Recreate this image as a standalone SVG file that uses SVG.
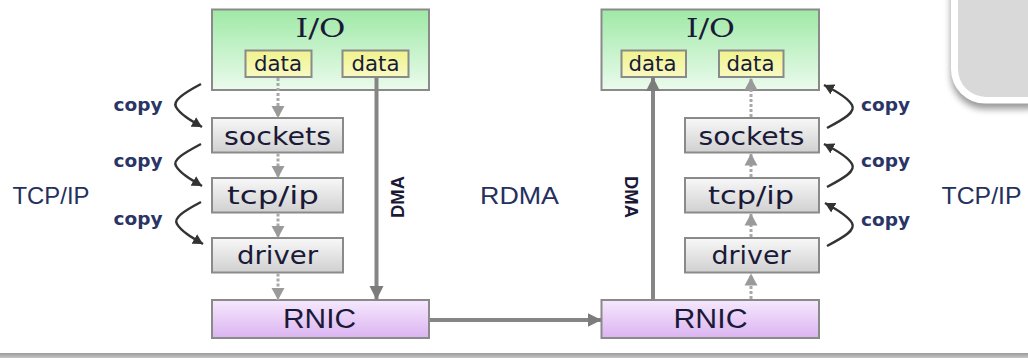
<svg xmlns="http://www.w3.org/2000/svg" width="1028" height="358" viewBox="0 0 1028 358">
  <defs>
    <linearGradient id="gIO" x1="0" y1="0" x2="0" y2="1">
      <stop offset="0" stop-color="#9fe9a6"/>
      <stop offset="1" stop-color="#ebfbed"/>
    </linearGradient>
    <linearGradient id="gData" x1="0" y1="0" x2="0" y2="1">
      <stop offset="0" stop-color="#eff38c"/>
      <stop offset="1" stop-color="#f8fac2"/>
    </linearGradient>
    <linearGradient id="gLayer" x1="0" y1="0" x2="0" y2="1">
      <stop offset="0" stop-color="#f8f8f8"/>
      <stop offset="1" stop-color="#d0d0d0"/>
    </linearGradient>
    <linearGradient id="gNic" x1="0" y1="0" x2="0" y2="1">
      <stop offset="0" stop-color="#f6e8fd"/>
      <stop offset="1" stop-color="#dbb4f1"/>
    </linearGradient>
    <linearGradient id="gBar" x1="0" y1="0" x2="0" y2="1">
      <stop offset="0" stop-color="#9a9a9a"/>
      <stop offset="1" stop-color="#c6c6c6"/>
    </linearGradient>
    <filter id="soft" x="-50%" y="-50%" width="200%" height="200%">
      <feGaussianBlur stdDeviation="3.5"/>
    </filter>
    <marker id="headGray" markerUnits="userSpaceOnUse" markerWidth="14" markerHeight="14" refX="12" refY="7" orient="auto">
      <path d="M0,0.5 L12,7 L0,13.5 Z" fill="#9a9a9a"/>
    </marker>
    <marker id="headDark" markerUnits="userSpaceOnUse" markerWidth="16" markerHeight="16" refX="14" refY="8" orient="auto">
      <path d="M0,1 L14,8 L0,15 Z" fill="#7c7c7c"/>
    </marker>
    <marker id="headCopy" markerUnits="userSpaceOnUse" markerWidth="12" markerHeight="12" refX="10" refY="6" orient="auto">
      <path d="M0,0.5 L10,6 L0,11.5 Z" fill="#333"/>
    </marker>
  </defs>
  <style>
    .box { stroke: #8a8a8a; stroke-width: 2; }
    .io { fill: url(#gIO); }
    .data { fill: url(#gData); }
    .layer { fill: url(#gLayer); }
    .nic { fill: url(#gNic); }
    .t { fill: #1a1a38; font-family: "DejaVu Sans", Verdana, sans-serif; text-anchor: middle; }
    .serif { font-family: "DejaVu Serif", "Liberation Serif", serif; }
    .arial { font-family: "Liberation Sans", Arial, sans-serif; }
    .lbl { fill: #25305e; font-family: "Liberation Sans", Arial, sans-serif; font-size: 24.5px; text-anchor: middle; }
    .copy { fill: #2a3566; font-family: "DejaVu Sans", Verdana, sans-serif; font-weight: bold; font-size: 17px; text-anchor: middle; }
    .dot { stroke: #a8a8a8; stroke-width: 3; stroke-dasharray: 3 2; fill: none; marker-end: url(#headGray); }
    .dma { stroke: #858585; stroke-width: 4; fill: none; marker-end: url(#headDark); }
    .cp { stroke: #333; stroke-width: 2.5; fill: none; marker-end: url(#headCopy); }
  </style>

  <rect width="1028" height="358" fill="#ffffff"/>

  <!-- corner panel with white rim and drop shadow -->
  <g id="corner-panel">
    <rect x="951" y="-40" width="110" height="144" rx="34" fill="#000" opacity="0.4" filter="url(#soft)" transform="translate(0,5)"/>
    <rect x="951" y="-40" width="110" height="143.5" rx="34" fill="#ffffff"/>
    <rect x="958" y="-40" width="100" height="137" rx="28" fill="#d9d9d9"/>
  </g>

  <!-- bottom shadow band -->
  <rect x="0" y="353" width="1028" height="5" fill="url(#gBar)"/>

  <!-- side labels -->
  <g id="labels">
    <text class="lbl" x="51" y="204" textLength="77" lengthAdjust="spacingAndGlyphs">TCP/IP</text>
    <text class="lbl" x="519.5" y="204" textLength="79" lengthAdjust="spacingAndGlyphs">RDMA</text>
    <text class="lbl" x="981.5" y="204" textLength="80" lengthAdjust="spacingAndGlyphs">TCP/IP</text>
  </g>

  <!-- left host -->
  <g id="io-left">
    <rect class="box io" x="212" y="9.5" width="217" height="80.5"/>
    <text class="t serif" x="320.5" y="36.5" font-size="26" textLength="50" lengthAdjust="spacingAndGlyphs">I/O</text>
  </g>
  <g id="data-left-a">
    <rect class="box data" x="245.5" y="50.5" width="66" height="26.5"/>
    <text class="t" x="278" y="70.5" font-size="21.5" textLength="48" lengthAdjust="spacingAndGlyphs">data</text>
  </g>
  <g id="data-left-b">
    <rect class="box data" x="342.5" y="50.5" width="66" height="26.5"/>
    <text class="t" x="375.5" y="70.5" font-size="21.5" textLength="48" lengthAdjust="spacingAndGlyphs">data</text>
  </g>
  <g id="sockets-left">
    <rect class="box layer" x="212" y="118" width="131" height="34.5"/>
    <text class="t" x="277.5" y="144.5" font-size="25" textLength="107" lengthAdjust="spacingAndGlyphs">sockets</text>
  </g>
  <g id="tcpip-left">
    <rect class="box layer" x="212" y="178" width="131" height="34.5"/>
    <text class="t" x="273" y="203.5" font-size="25" textLength="92" lengthAdjust="spacingAndGlyphs">tcp/ip</text>
  </g>
  <g id="driver-left">
    <rect class="box layer" x="212" y="238" width="131" height="34.5"/>
    <text class="t" x="277.5" y="264" font-size="25" textLength="81" lengthAdjust="spacingAndGlyphs">driver</text>
  </g>
  <g id="rnic-left">
    <rect class="box nic" x="212" y="300" width="217" height="38"/>
    <text class="t arial" x="319.5" y="327.5" font-size="27" textLength="73" lengthAdjust="spacingAndGlyphs">RNIC</text>
  </g>

  <!-- right host -->
  <g id="io-right">
    <rect class="box io" x="601.5" y="9.5" width="217.5" height="80.5"/>
    <text class="t serif" x="710.5" y="36.5" font-size="26" textLength="49" lengthAdjust="spacingAndGlyphs">I/O</text>
  </g>
  <g id="data-right-a">
    <rect class="box data" x="621.5" y="50.5" width="64.5" height="26.5"/>
    <text class="t" x="652.5" y="70.5" font-size="21.5" textLength="48" lengthAdjust="spacingAndGlyphs">data</text>
  </g>
  <g id="data-right-b">
    <rect class="box data" x="719" y="50.5" width="64.5" height="26.5"/>
    <text class="t" x="750.5" y="70.5" font-size="21.5" textLength="48" lengthAdjust="spacingAndGlyphs">data</text>
  </g>
  <g id="sockets-right">
    <rect class="box layer" x="685" y="118" width="134" height="34.5"/>
    <text class="t" x="751.5" y="144.5" font-size="25" textLength="106" lengthAdjust="spacingAndGlyphs">sockets</text>
  </g>
  <g id="tcpip-right">
    <rect class="box layer" x="685" y="178" width="134" height="34.5"/>
    <text class="t" x="751" y="203.5" font-size="25" textLength="86" lengthAdjust="spacingAndGlyphs">tcp/ip</text>
  </g>
  <g id="driver-right">
    <rect class="box layer" x="685" y="238" width="134" height="34.5"/>
    <text class="t" x="751" y="264" font-size="25" textLength="79" lengthAdjust="spacingAndGlyphs">driver</text>
  </g>
  <g id="rnic-right">
    <rect class="box nic" x="601.5" y="300" width="217.5" height="38"/>
    <text class="t arial" x="710.5" y="327.5" font-size="27" textLength="74" lengthAdjust="spacingAndGlyphs">RNIC</text>
  </g>

  <!-- connectors -->
  <g id="connectors">
    <!-- stack copies, left side (down) -->
    <line class="dot" x1="278" y1="78" x2="278" y2="118"/>
    <line class="dot" x1="278" y1="153.5" x2="278" y2="178"/>
    <line class="dot" x1="278" y1="213.5" x2="278" y2="238"/>
    <line class="dot" x1="278" y1="273.5" x2="278" y2="300"/>
    <!-- stack copies, right side (up) -->
    <line class="dot" x1="751" y1="299" x2="751" y2="273.5"/>
    <line class="dot" x1="751" y1="237" x2="751" y2="213.5"/>
    <line class="dot" x1="751" y1="177" x2="751" y2="153.5"/>
    <line class="dot" x1="751" y1="117" x2="751" y2="78"/>

    <!-- direct memory access paths -->
    <line class="dma" x1="376.5" y1="77" x2="376.5" y2="300"/>
    <line class="dma" x1="653" y1="300" x2="653" y2="77"/>
    <line class="dma" x1="430" y1="320" x2="601.5" y2="320" stroke-width="3"/>

    <!-- copy hops, left -->
    <path class="cp" d="M201,84 C184,93 172,101 176,107 C180,114 190,120 202,127"/>
    <path class="cp" d="M201,144 C184,153 172,160 176,166 C180,173 190,179 202,186"/>
    <path class="cp" d="M201,202 C184,211 173,218 177,224 C181,231 191,237 203,244"/>
    <!-- copy hops, right -->
    <path class="cp" d="M827,128 C844,119 856,112 852,105 C848,98 838,92 824,85"/>
    <path class="cp" d="M827,187 C844,178 856,171 852,164 C848,157 838,151 824,144"/>
    <path class="cp" d="M827,246 C844,237 856,230 852,223 C848,216 838,210 825,203"/>

    <text class="t arial" font-size="18" font-weight="bold" transform="translate(403.5,197) rotate(-90)" textLength="42" lengthAdjust="spacingAndGlyphs">DMA</text>
    <text class="t arial" font-size="18" font-weight="bold" transform="translate(624.5,197) rotate(90)" textLength="42" lengthAdjust="spacingAndGlyphs">DMA</text>

    <text class="copy" x="138" y="110.5" textLength="49" lengthAdjust="spacingAndGlyphs">copy</text>
    <text class="copy" x="138" y="167" textLength="49" lengthAdjust="spacingAndGlyphs">copy</text>
    <text class="copy" x="138" y="225" textLength="49" lengthAdjust="spacingAndGlyphs">copy</text>
    <text class="copy" x="885.5" y="110.5" textLength="49" lengthAdjust="spacingAndGlyphs">copy</text>
    <text class="copy" x="885.5" y="167" textLength="49" lengthAdjust="spacingAndGlyphs">copy</text>
    <text class="copy" x="885.5" y="226" textLength="49" lengthAdjust="spacingAndGlyphs">copy</text>
  </g>
</svg>
